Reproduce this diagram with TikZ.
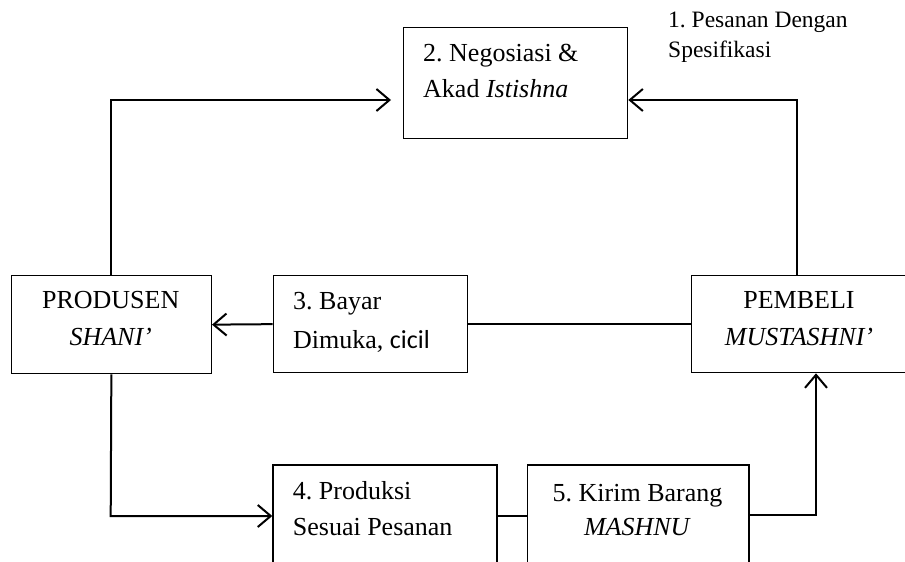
\documentclass[tikz,border=0pt]{standalone}
\usepackage{fontspec}
\setmainfont{Liberation Serif}
\newfontfamily\calibrifont{Carlito}
\usetikzlibrary{arrows.meta}
\frenchspacing
\begin{document}
\begin{tikzpicture}[x=1pt,y=-1pt,
  box/.style={draw, line width=1.3pt, rectangle, inner sep=0pt, anchor=north west},
  txt/.style={inner sep=0pt, font=\fontsize{26}{35.5}\selectfont},
  link/.style={line width=2pt},
  arr/.style={link, -{Straight Barb[length=13pt,width=22pt]}}]
\path[use as bounding box] (0,0) rectangle (905,562);
\clip (0,0) rectangle (905,562);

% boxes
\node[box, minimum width=224pt, minimum height=111pt] (nego) at (403,27) {};
\node[box, minimum width=200pt, minimum height=98pt] (prod) at (10.7,275) {};
\node[box, minimum width=194pt, minimum height=97pt] (bayar) at (272.7,275) {};
\node[box, minimum width=216pt, minimum height=97pt] (beli) at (691,275) {};
\node[box, minimum width=224pt, minimum height=120pt] (prodk) at (272.3,464.3) {};
\node[box, minimum width=221.6pt, minimum height=120pt] (kirim) at (526.7,464.3) {};

% texts (placed by the baseline of their last line)
\node[txt, anchor=base west, align=left] (negot) at (423,97) {2. Negosiasi \&\\Akad \textit{Istishna}};
\node[txt, anchor=base west, align=left, font=\fontsize{23.5}{30}\selectfont] (pesan) at (668,57) {1. Pesanan Dengan\\Spesifikasi};
\node[txt, anchor=base, align=center, font=\fontsize{26}{37}\selectfont] (prodt) at (110.7,345) {PRODUSEN\\\textit{SHANI'}};
\node[txt, anchor=base west, align=left, font=\fontsize{26}{39}\selectfont] (bayart) at (293,348) {3. Bayar\\Dimuka, {\calibrifont cicil}};
\node[txt, anchor=base, align=center, font=\fontsize{26}{37}\selectfont] (belit) at (799,345) {PEMBELI\\\textit{MUSTASHNI'}};
\node[txt, anchor=base west, align=left] (prodkt) at (292.7,535) {4. Produksi\\Sesuai Pesanan};
\node[txt, anchor=base, align=center, font=\fontsize{26}{34}\selectfont] (kirimt) at (637.5,535) {5. Kirim Barang\\\textit{MASHNU}};

% connectors
\coordinate (tipA) at (391,100);
\draw[arr] (prod.north) |- (tipA);
\coordinate (tr) at (797,100);
\draw[arr] (beli.north -| tr) -- (tr) -- (tr -| nego.east);
\draw[arr] (bayar.west) -- (prod.east);
\draw[link] (bayar.east) -- (beli.west);
\coordinate (bl) at (110.7,516);
\draw[arr] (prod.south) -- (bl) -- (bl -| prodk.west);
\draw[link] (prodk.east |- bl) -- (kirim.west |- bl);
\coordinate (br) at (816,515);
\draw[arr] (kirim.east |- br) -- (br) -- (br |- beli.south);
\end{tikzpicture}
\end{document}
